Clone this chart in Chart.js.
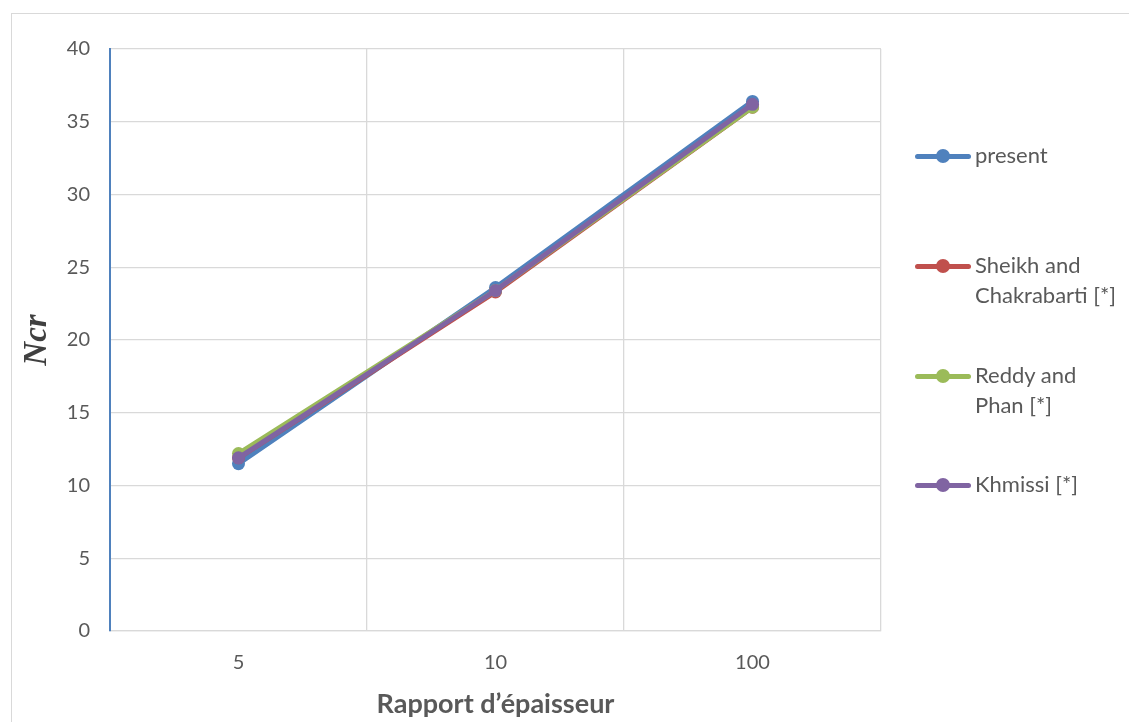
<!DOCTYPE html>
<html>
<head>
<meta charset="utf-8">
<script src="https://cdn.jsdelivr.net/npm/chart.js@4.4.1/dist/chart.umd.min.js"></script>
<style>
  body { margin: 0; background: #fff; }
  #wrap { position: relative; width: 1129px; height: 722px; overflow: hidden; }
  #frame { position: absolute; left: 11px; top: 13px; width: 1200px; height: 800px; border: 1px solid #d9d9d9; }
  #myChart { position: absolute; left: 0; top: 0; }
  .leg { position: absolute; left: 915px; font-family: Lato, sans-serif; font-size: 22px; color: #595959; line-height: 30px; }
  .leg .mk { position: absolute; left: 0; width: 56px; height: 5px; border-radius: 3px; }
  .leg .dot { position: absolute; left: 21px; width: 14px; height: 14px; border-radius: 50%; }
  .leg .txt { position: absolute; left: 60px; white-space: nowrap; }
</style>
</head>
<body>
<div id="wrap">
  <div id="frame"></div>
  <canvas id="myChart" width="1129" height="722"></canvas>
  <div id="legend"></div>
</div>
<script>
// valeurs
let labels = ["5", "10", "100"];
let seriesNames = ["present", "Sheikh and\nChakrabarti [*]", "Reddy and\nPhan [*]", "Khmissi [*]"];
let present = [11.5, 23.6, 36.4];
let sheikh = [11.9, 23.3, 36.0];
let reddy = [12.2, 23.4, 36.0];
let khmissi = [11.9, 23.4, 36.2];
let colors = ["#4f81bd", "#c0504d", "#9bbb59", "#8064a2"];
let legendY = [156, 266, 376, 485];

let allValues = [present, sheikh, reddy, khmissi];
let datasets = [];
for (let i = 0; i < allValues.length; i++) {
    datasets.push({
        label: seriesNames[i],
        data: allValues[i],
        borderColor: colors[i],
        backgroundColor: colors[i],
        borderWidth: 5,
        pointRadius: 6.5,
        pointHoverRadius: 6.5,
        pointBorderWidth: 0,
        borderCapStyle: "round",
        order: allValues.length - i
    });
}

let ctx = document.getElementById("myChart").getContext("2d");
let myChart = new Chart(ctx, {
    type: "line",
    data: { labels: labels, datasets: datasets },
    options: {
        responsive: false,
        animation: false,
        layout: { padding: { left: 0, top: 49, right: 248, bottom: 0 } },
        plugins: { legend: { display: false }, tooltip: { enabled: false } },
        scales: {
            x: {
                offset: true,
                grid: { offset: true, color: "#d9d9d9", lineWidth: 1.3, drawTicks: false },
                border: { color: "#d9d9d9", width: 1.3 },
                ticks: { padding: 20, color: "#595959", font: { family: "Lato", size: 20 } },
                title: { display: true, text: "Rapport d’épaisseur", color: "#595959",
                         font: { family: "Lato", size: 27, weight: "bold" }, padding: { top: 0, bottom: 2 } },
                afterFit: function(scale) { scale.height = 91; }
            },
            y: {
                min: 0, max: 40,
                ticks: { stepSize: 5, padding: 20, color: "#595959", font: { family: "Lato", size: 20 } },
                grid: { color: "#d9d9d9", lineWidth: 1.3, drawTicks: false },
                border: { color: "#4f81bd", width: 2 },
                title: { display: true, text: "Ncr", color: "#404040",
                         font: { family: "Liberation Serif", size: 33, weight: "bold", style: "italic" }, padding: { top: 18, bottom: 0 } },
                afterFit: function(scale) { scale.width = 110; }
            }
        }
    }
});

// legende a droite, texte sur plusieurs lignes comme dans Excel
let _legend = document.getElementById("legend");
for (let i = 0; i < seriesNames.length; i++) {
    let item = document.createElement("div");
    item.className = "leg";
    item.style.top = legendY[i] + "px";
    let mk = document.createElement("div");
    mk.className = "mk";
    mk.style.background = colors[i];
    mk.style.top = "-2.5px";
    let dot = document.createElement("div");
    dot.className = "dot";
    dot.style.background = colors[i];
    dot.style.top = "-7px";
    let txt = document.createElement("div");
    txt.className = "txt";
    txt.style.top = "-16px";
    txt.innerHTML = seriesNames[i].replace("\n", "<br>");
    item.appendChild(mk);
    item.appendChild(dot);
    item.appendChild(txt);
    _legend.appendChild(item);
}
</script>
</body>
</html>
